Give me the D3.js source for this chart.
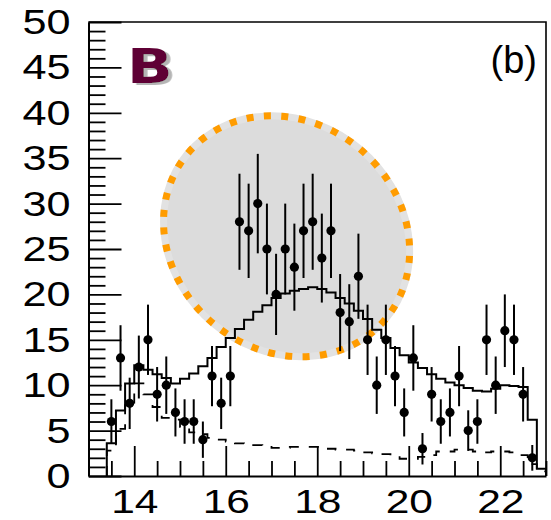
<!DOCTYPE html>
<html>
<head>
<meta charset="utf-8">
<script src="https://cdn.jsdelivr.net/npm/d3@7"></script>
<style>
body { margin: 0; background: #fff; }
svg { display: block; font-family: "Liberation Sans", Arial, sans-serif; }
</style>
</head>
<body>
<div id="chart"></div>
<script>
const width = 551, height = 520;
const margin = {top: 22, right: 5, bottom: 44, left: 88.5};

// observed events, one per 0.2 bin (bin centres)
const dataX = [13.5, 13.7, 13.9, 14.1, 14.3, 14.5, 14.7, 14.9, 15.1, 15.3,
               15.5, 15.7, 15.9, 16.1, 16.3, 16.5, 16.7, 16.9, 17.1, 17.3,
               17.5, 17.7, 17.9, 18.1, 18.3, 18.5, 18.7, 18.9, 19.1, 19.3,
               19.5, 19.7, 19.9, 20.1, 20.3, 20.5, 20.7, 20.9, 21.1, 21.3,
               21.5, 21.7, 21.9, 22.1, 22.3, 22.5, 22.7];
const dataN = [6, 13, 8, 12, 15, 9, 10, 7, 6, 6,
               4, 11, 8, 11, 28, 27, 30, 25, 20, 25,
               23, 27, 28, 24, 27, 18, 17, 22, 15, 10,
               15, 11, 7, 13, 3, 9, 6, 7, 11, 5,
               6, 15, 10, 16, 15, 9, 2];

// model histograms (bin centres, width 0.2)
const modelX = [13.5, 13.7, 13.9, 14.1, 14.3, 14.5, 14.7, 14.9, 15.1, 15.3,
                15.5, 15.7, 15.9, 16.1, 16.3, 16.5, 16.7, 16.9, 17.1, 17.3,
                17.5, 17.7, 17.9, 18.1, 18.3, 18.5, 18.7, 18.9, 19.1, 19.3,
                19.5, 19.7, 19.9, 20.1, 20.3, 20.5, 20.7, 20.9, 21.1, 21.3,
                21.5, 21.7, 21.9, 22.1, 22.3, 22.5, 22.7, 22.9];
const totalModel = [3.6, 7.2, 10.2, 12.2, 11.7, 11.2, 10.8, 10.2, 10.7, 11.3,
                    12.1, 13.0, 14.2, 15.2, 16.2, 17.2, 18.1, 18.8, 19.6, 20.1,
                    20.4, 20.6, 20.8, 20.6, 20.2, 19.6, 19.0, 18.2, 17.3, 16.1,
                    15.2, 14.1, 13.3, 12.5, 11.9, 11.2, 10.7, 10.3, 10.0, 9.7,
                    9.4, 9.3, 9.6, 10.0, 9.9, 9.8, 6.2, 0.8];
const bkgModel = [2.8, 5.2, 7.8, 10.2, 9.0, 7.6, 6.4, 6.2, 5.4, 4.8,
                  4.6, 4.2, 4.0, 3.8, 3.6, 3.5, 3.4, 3.2, 3.1, 3.1,
                  3.2, 3.2, 3.2, 3.2, 3.0, 2.9, 2.9, 2.8, 2.6, 2.5,
                  2.4, 2.2, 1.9, 1.9, 2.1, 2.3, 2.7, 2.7, 2.9, 2.9,
                  2.7, 2.6, 2.7, 2.7, 2.6, 2.3, 1.3, 0.5];
const binWidth = 0.2;

const xTicks = [14, 16, 18, 20, 22];
const yTicks = [0, 5, 10, 15, 20, 25, 30, 35, 40, 45, 50];

// highlighted region, centre in data units
const ring = {x: 17.33, y: 26.4};

const x = d3.scaleLinear().domain([13, 23]).range([margin.left, width - margin.right]);
const y = d3.scaleLinear().domain([0, 50]).range([height - margin.bottom, margin.top]);

const svg = d3.select('#chart').append('svg')
    .attr('width', width)
    .attr('height', height);

const defs = svg.append('defs');
defs.append('filter')
    .attr('id', 'shadow')
    .attr('x', '-20%').attr('y', '-20%').attr('width', '150%').attr('height', '150%')
    .append('feDropShadow')
    .attr('dx', 3).attr('dy', 2).attr('stdDeviation', 0.6)
    .attr('flood-color', '#b5b5b5').attr('flood-opacity', 1);

// ring
const ringG = svg.append('g')
    .attr('transform', 'translate(' + x(ring.x) + ',' + y(ring.y) + ') rotate(40)');
const rx = 129, ry = 114;
const perim = Math.PI * (3 * (rx + ry) - Math.sqrt((3 * rx + ry) * (rx + 3 * ry)));
const period = perim / 44;
ringG.append('ellipse')
    .attr('rx', rx).attr('ry', ry)
    .attr('fill', '#dcdcdc')
    .attr('stroke', '#e2e2e2')
    .attr('stroke-width', 7);
ringG.append('ellipse')
    .attr('rx', rx).attr('ry', ry)
    .attr('fill', 'none')
    .attr('stroke', '#ff9c00')
    .attr('stroke-width', 7)
    .attr('stroke-dasharray', '7 ' + (period - 7));

// histograms
function stepPoints(vals) {
    let pts = [{x: modelX[0] - binWidth / 2, y: 0}];
    modelX.forEach((c, i) => pts.push({x: c - binWidth / 2, y: vals[i]}));
    let last = modelX[modelX.length - 1] + binWidth / 2;
    pts.push({x: last, y: vals[vals.length - 1]});
    pts.push({x: last, y: 0});
    return pts;
}
const stepLine = d3.line().x(d => x(d.x)).y(d => y(d.y)).curve(d3.curveStepAfter);

svg.append('path')
    .attr('d', stepLine(stepPoints(bkgModel)))
    .attr('fill', 'none')
    .attr('stroke', '#000')
    .attr('stroke-width', 1.8)
    .attr('stroke-dasharray', '10 10');

svg.append('path')
    .attr('d', stepLine(stepPoints(totalModel)))
    .attr('fill', 'none')
    .attr('stroke', '#000')
    .attr('stroke-width', 2);

// data points with poisson errors
const pts = dataX.map((v, i) => ({x: v, n: dataN[i]}));
svg.append('g').selectAll('line')
    .data(pts)
    .enter()
    .append('line')
    .attr('x1', d => x(d.x)).attr('x2', d => x(d.x))
    .attr('y1', d => y(d.n - Math.sqrt(d.n)))
    .attr('y2', d => y(d.n + Math.sqrt(d.n)))
    .attr('stroke', '#000')
    .attr('stroke-width', 2);
svg.append('g').selectAll('circle')
    .data(pts)
    .enter()
    .append('circle')
    .attr('cx', d => x(d.x))
    .attr('cy', d => y(d.n))
    .attr('r', 4.6)
    .attr('fill', '#000');

// axes
function styleAxis(g) {
    g.attr('font-family', '"Liberation Sans", Arial, sans-serif').attr('font-size', 36);
    g.selectAll('.tick line').attr('stroke-width', 1.8);
    g.selectAll('text').attr('fill', '#000');
}

const yMinor = d3.range(0, 51).filter(v => v % 5 != 0);
const xMinor = d3.range(13, 23.01, 0.5).filter(v => v % 2 != 0);

svg.append('g')
    .attr('transform', 'translate(' + margin.left + ',0)')
    .call(d3.axisLeft(y).tickValues(yMinor).tickSizeInner(-17).tickSizeOuter(0).tickFormat(''))
    .call(g => g.select('.domain').remove())
    .call(styleAxis);
svg.append('g')
    .attr('transform', 'translate(0,' + (height - margin.bottom) + ')')
    .call(d3.axisBottom(x).tickValues(xMinor).tickSizeInner(-15).tickSizeOuter(0).tickFormat(''))
    .call(g => g.select('.domain').remove())
    .call(styleAxis);

svg.append('g')
    .attr('transform', 'translate(' + margin.left + ',0)')
    .call(d3.axisLeft(y).tickValues(yTicks).tickSizeInner(-33).tickSizeOuter(0).tickPadding(15))
    .call(styleAxis)
    .call(g => g.select('.domain').attr('stroke-width', 2))
    .call(g => g.selectAll('text').attr('transform', 'scale(1.2,1)'));

svg.append('g')
    .attr('transform', 'translate(0,' + (height - margin.bottom) + ')')
    .call(d3.axisBottom(x).tickValues(xTicks).tickSizeInner(-30).tickSizeOuter(0).tickPadding(13))
    .call(styleAxis)
    .attr('font-size', 34)
    .call(g => g.select('.domain').attr('stroke-width', 2))
    .call(g => g.selectAll('text').attr('transform', 'scale(1.25,1)'));

// frame
svg.append('path')
    .attr('d', 'M' + margin.left + ',' + margin.top + 'H' + (width - margin.right) + 'V' + (height - margin.bottom))
    .attr('fill', 'none')
    .attr('stroke', '#000')
    .attr('stroke-width', 1.6);

// labels
svg.append('text')
    .attr('transform', 'translate(127,83) scale(1.25,1)')
    .attr('font-family', '"DejaVu Sans", sans-serif')
    .attr('font-weight', 'bold')
    .attr('font-size', 48)
    .attr('fill', '#5f0035')
    .attr('filter', 'url(#shadow)')
    .text('B');

svg.append('text')
    .attr('x', 537)
    .attr('y', 73)
    .attr('text-anchor', 'end')
    .attr('font-size', 38)
    .attr('fill', '#000')
    .text('(b)');
</script>
</body>
</html>
